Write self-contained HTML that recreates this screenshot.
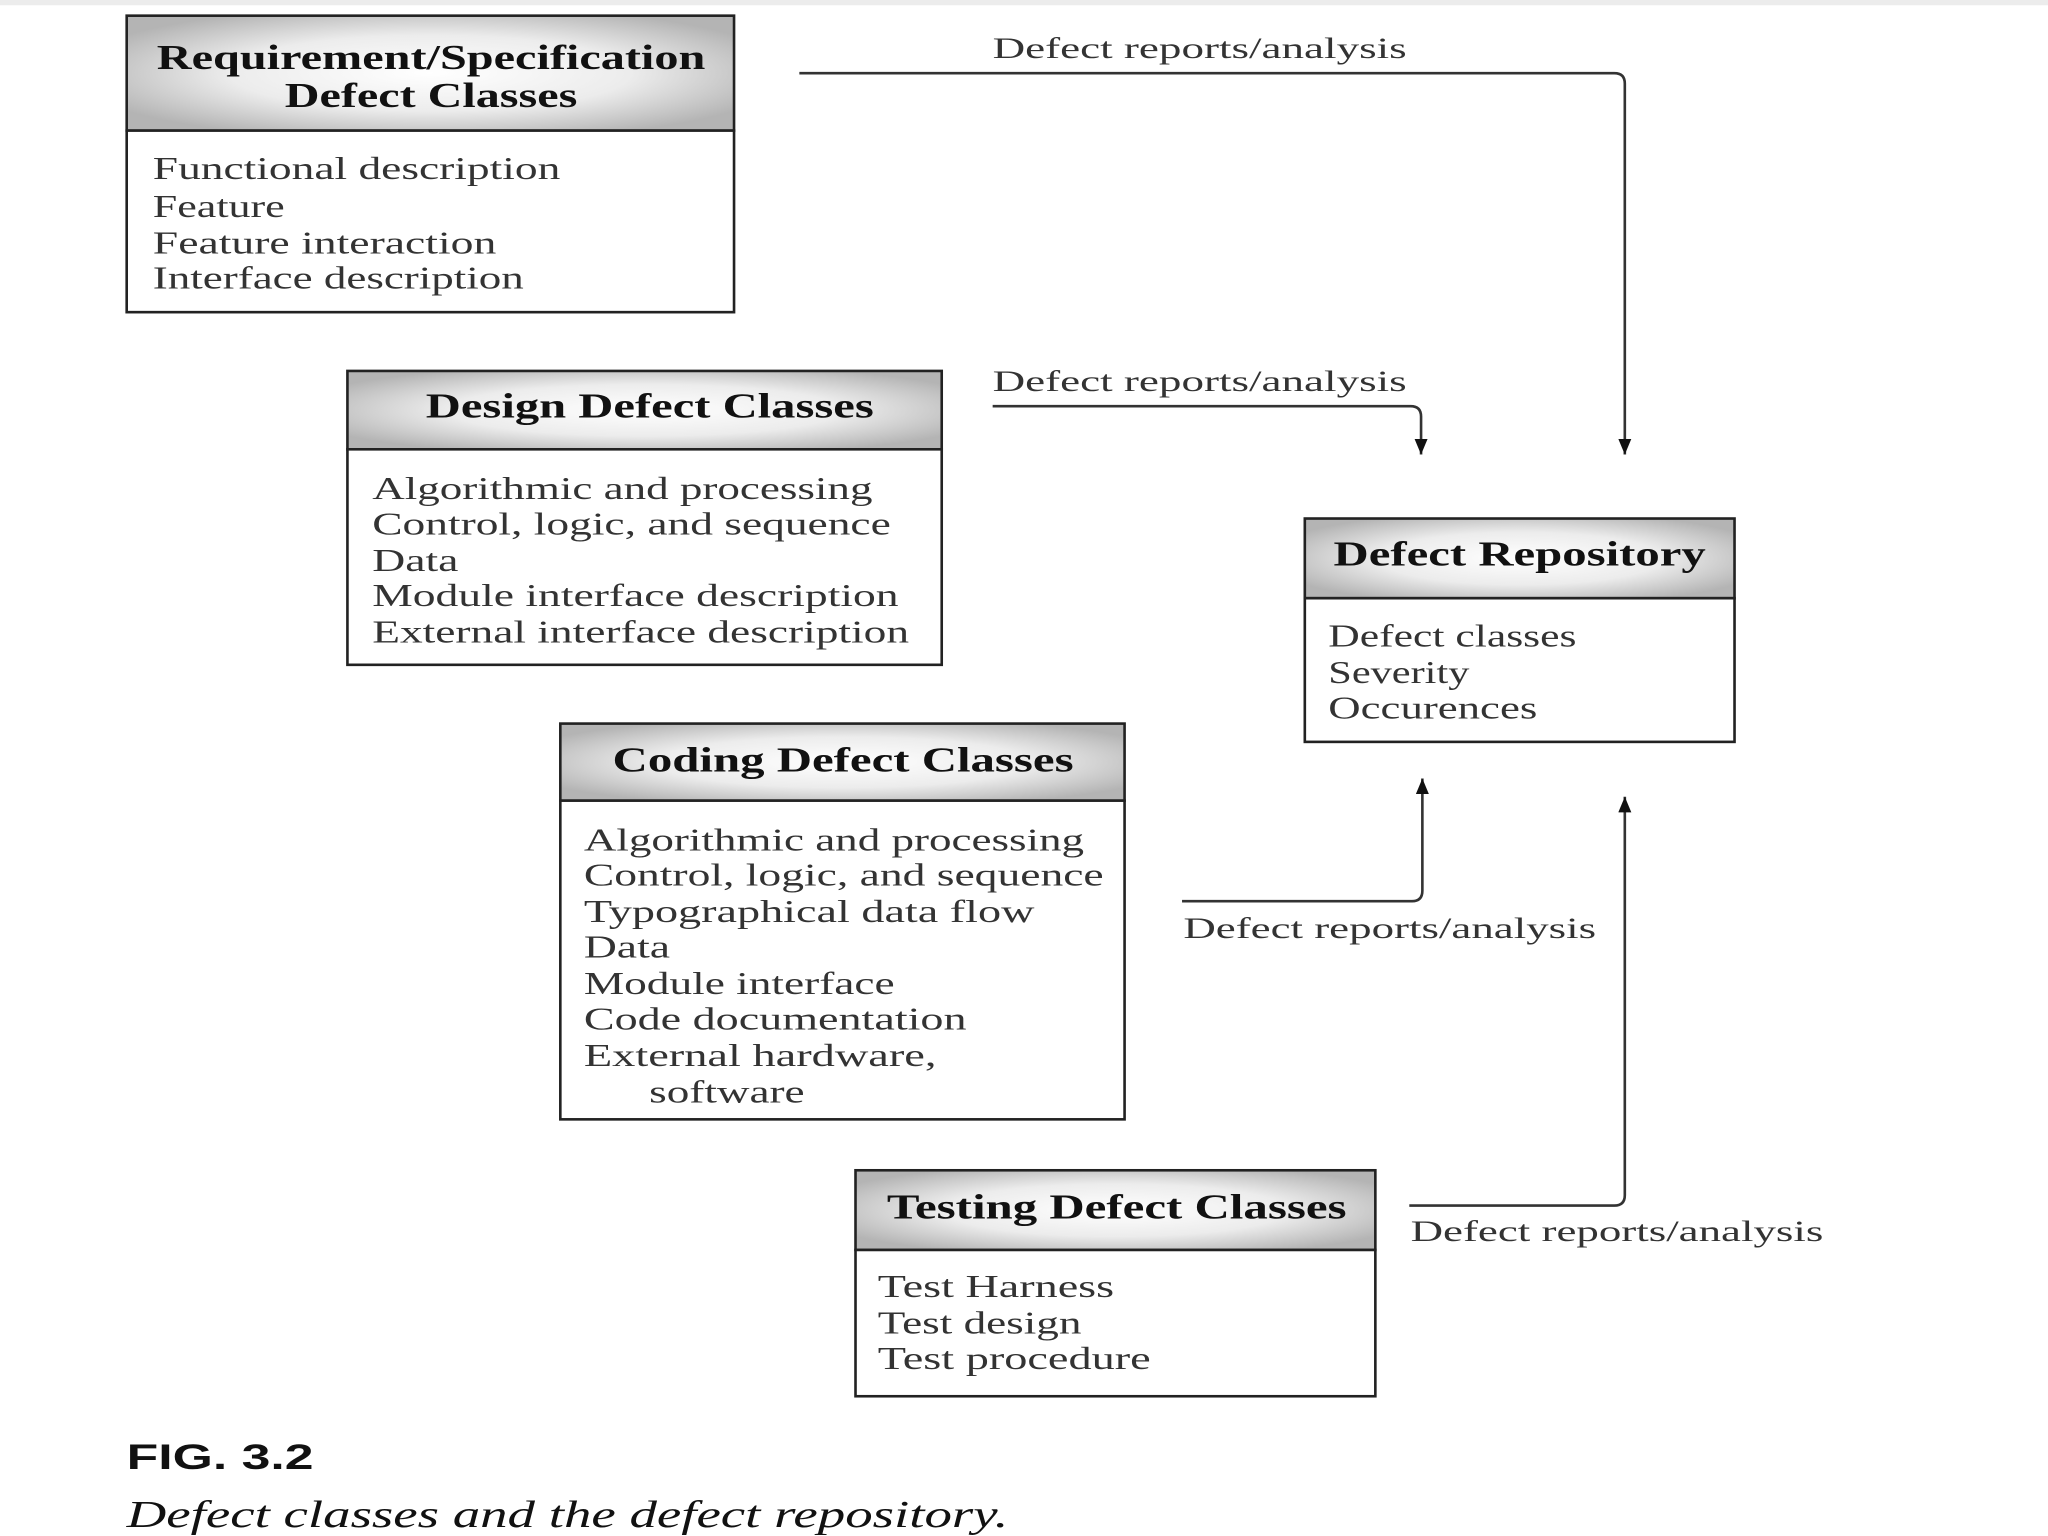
<!DOCTYPE html>
<html><head><meta charset="utf-8"><style>
html,body{margin:0;padding:0;background:#fff;}
svg{display:block;}
text{font-family:"Liberation Serif",serif;fill:#222;dominant-baseline:central;}
.t{font-weight:bold;font-size:27px;fill:#111;}
.b{font-size:24px;fill:#333;}
.l{font-size:23px;fill:#333;}
</style></head><body>
<svg width="2048" height="1536" viewBox="0 0 1568 1176" preserveAspectRatio="none" xmlns="http://www.w3.org/2000/svg">
<defs>
<radialGradient id="g" cx="50%" cy="50%" r="60%">
<stop offset="0" stop-color="#ffffff"/><stop offset="0.55" stop-color="#ececec"/><stop offset="1" stop-color="#b4b4b4"/>
</radialGradient>
<marker id="a" markerWidth="12" markerHeight="10" refX="12" refY="5" orient="auto" markerUnits="userSpaceOnUse">
<path d="M0,0 L12,5 L0,10 Z" fill="#111"/></marker>
</defs>
<rect x="0" y="0" width="1568" height="4" fill="#ececec"/>
<g stroke="#222" stroke-width="2">
<rect x="97" y="12" width="465" height="88" fill="url(#g)"/>
<rect x="97" y="100" width="465" height="139" fill="#fff"/>
<rect x="266" y="284" width="455" height="60" fill="url(#g)"/>
<rect x="266" y="344" width="455" height="165" fill="#fff"/>
<rect x="429" y="554" width="432" height="59" fill="url(#g)"/>
<rect x="429" y="613" width="432" height="244" fill="#fff"/>
<rect x="655" y="896" width="398" height="61" fill="url(#g)"/>
<rect x="655" y="957" width="398" height="112" fill="#fff"/>
<rect x="999" y="397" width="329" height="61" fill="url(#g)"/>
<rect x="999" y="458" width="329" height="110" fill="#fff"/>
</g>
<g fill="none" stroke="#333" stroke-width="2">
<path d="M612,56 H1236 Q1244,56 1244,64 V348" marker-end="url(#a)"/>
<path d="M760,311 H1080 Q1088,311 1088,319 V348" marker-end="url(#a)"/>
<path d="M905,690 H1081 Q1089,690 1089,682 V596" marker-end="url(#a)"/>
<path d="M1079,923 H1236 Q1244,923 1244,915 V610" marker-end="url(#a)"/>
</g>
<text class="t" x="120" y="44" textLength="420" lengthAdjust="spacingAndGlyphs">Requirement/Specification</text>
<text class="t" x="218" y="73" textLength="224" lengthAdjust="spacingAndGlyphs">Defect Classes</text>
<text class="b" x="117" y="129" textLength="312" lengthAdjust="spacingAndGlyphs">Functional description</text>
<text class="b" x="117" y="158" textLength="101" lengthAdjust="spacingAndGlyphs">Feature</text>
<text class="b" x="117" y="186" textLength="263" lengthAdjust="spacingAndGlyphs">Feature interaction</text>
<text class="b" x="117" y="213" textLength="284" lengthAdjust="spacingAndGlyphs">Interface description</text>

<text class="t" x="326" y="311" textLength="343" lengthAdjust="spacingAndGlyphs">Design Defect Classes</text>
<text class="b" x="285" y="374" textLength="383" lengthAdjust="spacingAndGlyphs">Algorithmic and processing</text>
<text class="b" x="285" y="401" textLength="397" lengthAdjust="spacingAndGlyphs">Control, logic, and sequence</text>
<text class="b" x="285" y="429" textLength="66" lengthAdjust="spacingAndGlyphs">Data</text>
<text class="b" x="285" y="456" textLength="403" lengthAdjust="spacingAndGlyphs">Module interface description</text>
<text class="b" x="285" y="484" textLength="411" lengthAdjust="spacingAndGlyphs">External interface description</text>

<text class="t" x="469" y="582" textLength="353" lengthAdjust="spacingAndGlyphs">Coding Defect Classes</text>
<text class="b" x="447" y="643" textLength="383" lengthAdjust="spacingAndGlyphs">Algorithmic and processing</text>
<text class="b" x="447" y="670" textLength="398" lengthAdjust="spacingAndGlyphs">Control, logic, and sequence</text>
<text class="b" x="447" y="698" textLength="345" lengthAdjust="spacingAndGlyphs">Typographical data flow</text>
<text class="b" x="447" y="725" textLength="66" lengthAdjust="spacingAndGlyphs">Data</text>
<text class="b" x="447" y="753" textLength="238" lengthAdjust="spacingAndGlyphs">Module interface</text>
<text class="b" x="447" y="780" textLength="293" lengthAdjust="spacingAndGlyphs">Code documentation</text>
<text class="b" x="447" y="808" textLength="270" lengthAdjust="spacingAndGlyphs">External hardware,</text>
<text class="b" x="497" y="836" textLength="119" lengthAdjust="spacingAndGlyphs">software</text>

<text class="t" x="679" y="924" textLength="352" lengthAdjust="spacingAndGlyphs">Testing Defect Classes</text>
<text class="b" x="672" y="985" textLength="181" lengthAdjust="spacingAndGlyphs">Test Harness</text>
<text class="b" x="672" y="1013" textLength="156" lengthAdjust="spacingAndGlyphs">Test design</text>
<text class="b" x="672" y="1040" textLength="209" lengthAdjust="spacingAndGlyphs">Test procedure</text>

<text class="t" x="1021" y="424" textLength="285" lengthAdjust="spacingAndGlyphs">Defect Repository</text>
<text class="b" x="1017" y="487" textLength="190" lengthAdjust="spacingAndGlyphs">Defect classes</text>
<text class="b" x="1017" y="515" textLength="108" lengthAdjust="spacingAndGlyphs">Severity</text>
<text class="b" x="1017" y="542" textLength="160" lengthAdjust="spacingAndGlyphs">Occurences</text>

<text class="l" x="760" y="37" textLength="317" lengthAdjust="spacingAndGlyphs">Defect reports/analysis</text>
<text class="l" x="760" y="292" textLength="317" lengthAdjust="spacingAndGlyphs">Defect reports/analysis</text>
<text class="l" x="906" y="711" textLength="316" lengthAdjust="spacingAndGlyphs">Defect reports/analysis</text>
<text class="l" x="1080" y="943" textLength="316" lengthAdjust="spacingAndGlyphs">Defect reports/analysis</text>

<text x="97" y="1116" style="font-family:'Liberation Sans',sans-serif;font-weight:bold;font-size:27px;fill:#111" textLength="143" lengthAdjust="spacingAndGlyphs">FIG. 3.2</text>
<text x="97" y="1160" style="font-style:italic;font-size:29px;fill:#111" textLength="675" lengthAdjust="spacingAndGlyphs">Defect classes and the defect repository.</text>
</svg>
</body></html>
